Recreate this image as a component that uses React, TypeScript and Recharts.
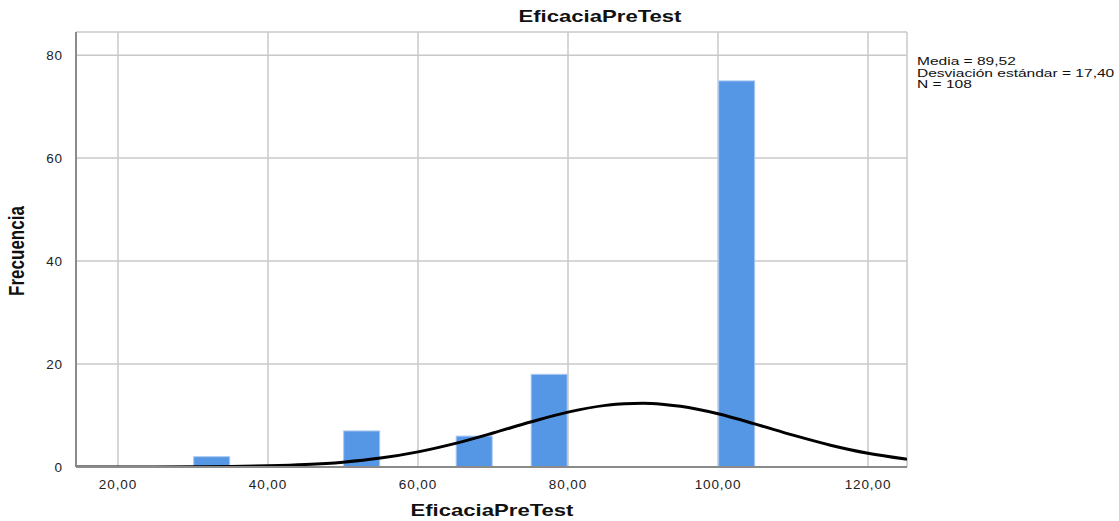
import React from 'react';
import {
  ComposedChart,
  Bar,
  Line,
  XAxis,
  YAxis,
  CartesianGrid,
} from 'recharts';

// histogram bins (centre of each 5-wide bin) and counts
const binCenters = [32.5, 52.5, 67.5, 77.5, 102.5];
const binCounts = [2, 7, 6, 18, 75];

// normal curve
const curveX = [14.4, 15, 20, 25, 30, 35, 40, 45, 50, 55, 60, 65, 70, 75, 80, 85, 87.5, 90, 92.5, 95, 100, 105, 110, 115, 120, 125, 125.2];
const curveY = [0.0, 0.0, 0.0, 0.01, 0.04, 0.09, 0.22, 0.47, 0.94, 1.73, 2.94, 4.59, 6.6, 8.74, 10.66, 11.97, 12.3, 12.38, 12.2, 11.78, 10.33, 8.33, 6.19, 4.24, 2.67, 1.55, 1.51];

const xTicks = [20, 40, 60, 80, 100, 120];
const yTicks = [0, 20, 40, 60, 80];

const statLines = ['Media = 89,52', 'Desviación estándar = 17,40', 'N = 108'];

const bins = binCenters.map((x, i) => ({ x, count: binCounts[i] }));
const curve = curveX.map((x, i) => ({ x, y: curveY[i] }));

const font = 'Arial, "Liberation Sans", sans-serif';
const tickStyle = { fill: '#222', fontSize: 13.5, fontFamily: font, letterSpacing: 0.9 };

const BAR_W = 36;

// recharts squeezes bars on a number axis, so redraw them at bin width around the bar centre
function BinShape(props: any) {
  const { x, y, width, height } = props;
  if (height == null || height <= 0) return null;
  const cx = x + width / 2;
  return (
    <rect
      x={cx - BAR_W / 2}
      y={y}
      width={BAR_W}
      height={height}
      fill="#5596e5"
      stroke="#a9c8f0"
      strokeWidth={1}
    />
  );
}

export default function App() {
  return (
    <div style={{ position: 'absolute', left: 0, top: 0, width: 1119, height: 521, background: '#fff', fontFamily: font }}>
      <ComposedChart width={1119} height={521} data={bins} margin={{ top: 32, right: 212, bottom: 24, left: 30 }}>
        <CartesianGrid stroke="#c8c8c8" strokeWidth={1.5} vertical horizontal />
        <XAxis
          type="number"
          dataKey="x"
          domain={[14.4, 125.2]}
          allowDataOverflow
          ticks={xTicks}
          tickFormatter={(v) => `${v},00`}
          tick={tickStyle}
          tickLine={false}
          axisLine={{ stroke: '#8a8a8a', strokeWidth: 2 }}
          tickMargin={6}
        />
        <YAxis
          type="number"
          domain={[0, 84.5]}
          allowDataOverflow
          ticks={yTicks}
          width={46}
          tick={tickStyle}
          tickLine={false}
          axisLine={{ stroke: '#8a8a8a', strokeWidth: 2 }}
          tickMargin={7}
        />
        <Bar
          dataKey="count"
          barSize={2}
          fill="#5596e5"
          shape={BinShape}
          isAnimationActive={false}
        />
        <Line
          data={curve}
          dataKey="y"
          type="monotone"
          stroke="#000"
          strokeWidth={3}
          dot={false}
          activeDot={false}
          isAnimationActive={false}
        />
      </ComposedChart>

      <div style={{ position: 'absolute', left: 600, top: 7, transform: 'translateX(-50%) scaleX(1.3)', fontWeight: 'bold', fontSize: 17, color: '#111', whiteSpace: 'nowrap' }}>
        EficaciaPreTest
      </div>
      <div style={{ position: 'absolute', left: 492, top: 501, transform: 'translateX(-50%) scaleX(1.3)', fontWeight: 'bold', fontSize: 17, color: '#111', whiteSpace: 'nowrap' }}>
        EficaciaPreTest
      </div>
      <div
        style={{
          position: 'absolute',
          left: 18,
          top: 251,
          transform: 'translate(-50%, -50%) rotate(-90deg) scaleY(1.25)',
          fontWeight: 'bold',
          fontSize: 17,
          color: '#111',
          whiteSpace: 'nowrap',
        }}
      >
        Frecuencia
      </div>
      <div style={{ position: 'absolute', left: 917, top: 56, fontSize: 11.5, lineHeight: '11.6px', color: '#111', transform: 'scaleX(1.35)', transformOrigin: 'left top', whiteSpace: 'nowrap' }}>
        {statLines.map((s) => (
          <div key={s}>{s}</div>
        ))}
      </div>
    </div>
  );
}
